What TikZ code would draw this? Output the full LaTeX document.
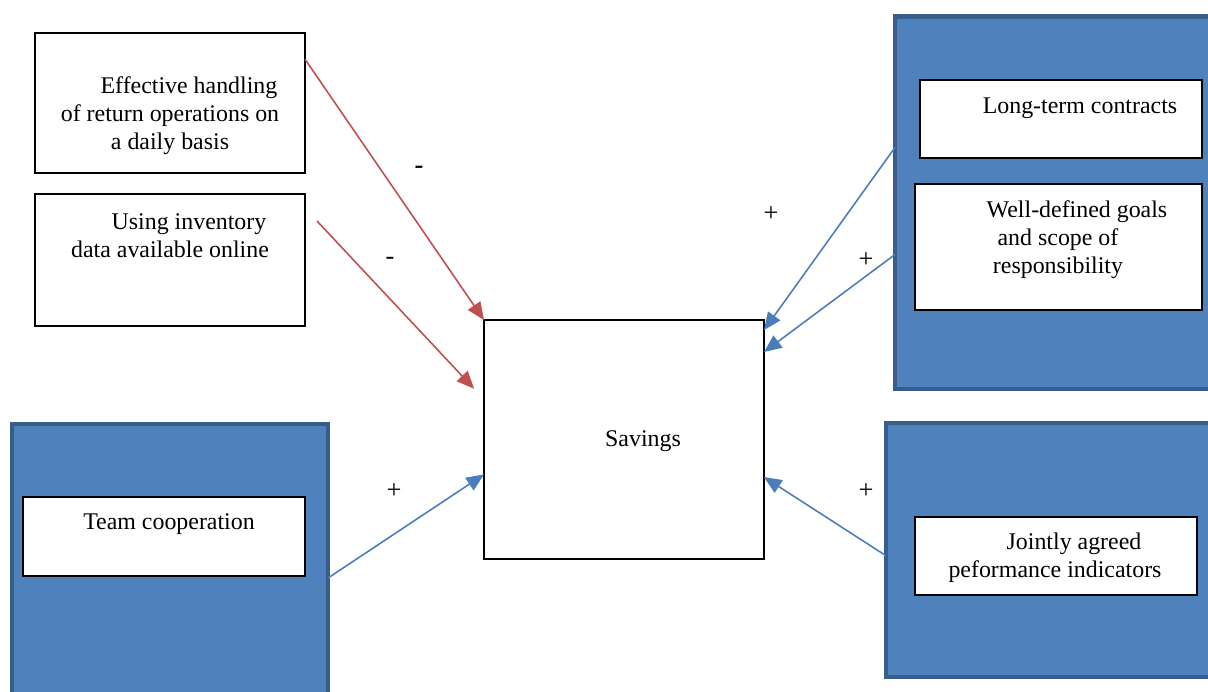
\documentclass[tikz,border=0pt]{standalone}
\usepackage{fontspec}
\setmainfont{Liberation Serif}
\usepackage{tikz}
\usetikzlibrary{shapes, arrows.meta, positioning, backgrounds}
\definecolor{panelfill}{HTML}{4F81BD}
\definecolor{paneldraw}{HTML}{385D8A}
\definecolor{negred}{HTML}{C0504D}
\definecolor{posblue}{HTML}{4A7EBB}
\tikzstyle{block} = [rectangle, draw=black, line width=0.7pt, fill=white, inner sep=0pt, outer sep=0pt]
\tikzstyle{panel} = [rectangle, draw=paneldraw, line width=2.8pt, fill=panelfill, inner sep=0pt, outer sep=0pt]
\tikzstyle{txt} = [align=center, inner sep=0pt, font=\fontsize{13.6}{16}\selectfont]
\tikzstyle{sign} = [inner sep=0pt, font=\fontsize{15}{16}\selectfont]
\tikzstyle{negarrow} = [-{Triangle[length=10pt, width=8.5pt]}, draw=negred, fill=negred, line width=0.9pt]
\tikzstyle{posarrow} = [-{Triangle[length=10pt, width=8.5pt]}, draw=posblue, fill=posblue, line width=0.9pt]

\begin{document}
\begin{tikzpicture}[x=0.02cm, y=-0.02cm]

    \useasboundingbox (0, 0) rectangle (1208, 691);

    % blue panels
    \node (panelR1) [panel, minimum width=6.4cm, minimum height=7.46cm] at (1055, 202.5) {};
    \node (panelL) [panel, minimum width=6.32cm, minimum height=5.72cm] at (170, 567) {};
    \node (panelR2) [panel, minimum width=6.58cm, minimum height=5.08cm] at (1050.5, 550) {};

    % boxes
    \node (handling) [block, minimum width=5.4cm, minimum height=2.8cm] at (170, 103) {};
    \node (inventory) [block, minimum width=5.4cm, minimum height=2.64cm] at (170, 260) {};
    \node (savings) [block, minimum width=5.6cm, minimum height=4.78cm] at (624, 439.5) {};
    \node (contracts) [block, minimum width=5.64cm, minimum height=1.56cm] at (1061, 119) {};
    \node (goals) [block, minimum width=5.74cm, minimum height=2.52cm] at (1058.5, 247) {};
    \node (team) [block, minimum width=5.64cm, minimum height=1.58cm] at (164, 536.5) {};
    \node (indicators) [block, minimum width=5.64cm, minimum height=1.56cm] at (1056, 556) {};

    % texts
    \node (handlingtxt) [txt] at (170, 116) {\hspace*{0.76cm}Effective handling\\of return operations on\\a daily basis};
    \node (inventorytxt) [txt] at (170, 236) {\hspace*{0.76cm}Using inventory\\data available online};
    \node (savingstxt) [txt] at (643, 441) {Savings};
    \node (contractstxt) [txt] at (1080, 108) {Long-term contracts};
    \node (goalstxt) [txt] at (1058, 240) {\hspace*{0.76cm}Well-defined goals\\and scope of\\responsibility};
    \node (teamtxt) [txt] at (169, 524) {Team cooperation};
    \node (indicatorstxt) [txt] at (1055, 558) {\hspace*{0.76cm}Jointly agreed\\peformance indicators};

    % signs
    \node (sign1) [sign] at (419, 170) {\textbf{-}};
    \node (sign2) [sign] at (390, 261) {-};
    \node (sign3) [sign] at (771, 214) {+};
    \node (sign4) [sign] at (866, 260) {+};
    \node (sign5) [sign] at (394, 491) {+};
    \node (sign6) [sign] at (866, 491) {+};

    \coordinate (inventoryout) at (317, 221);

    % arrows
    \draw [negarrow] (handling.18.8) -- (savings.north west);
    \draw [negarrow, shorten >=0.29cm] (inventoryout) -- (savings.164.6);
    \draw [posarrow] (panelR1.161.1) -- (savings.38.8);
    \draw [posarrow] (panelR1.198.6) -- (savings.32.9);
    \draw [posarrow] (panelL.356.8) -- (savings.194.2);
    \draw [posarrow] (panelR2.182.1) -- (savings.345);

\end{tikzpicture}
\end{document}
